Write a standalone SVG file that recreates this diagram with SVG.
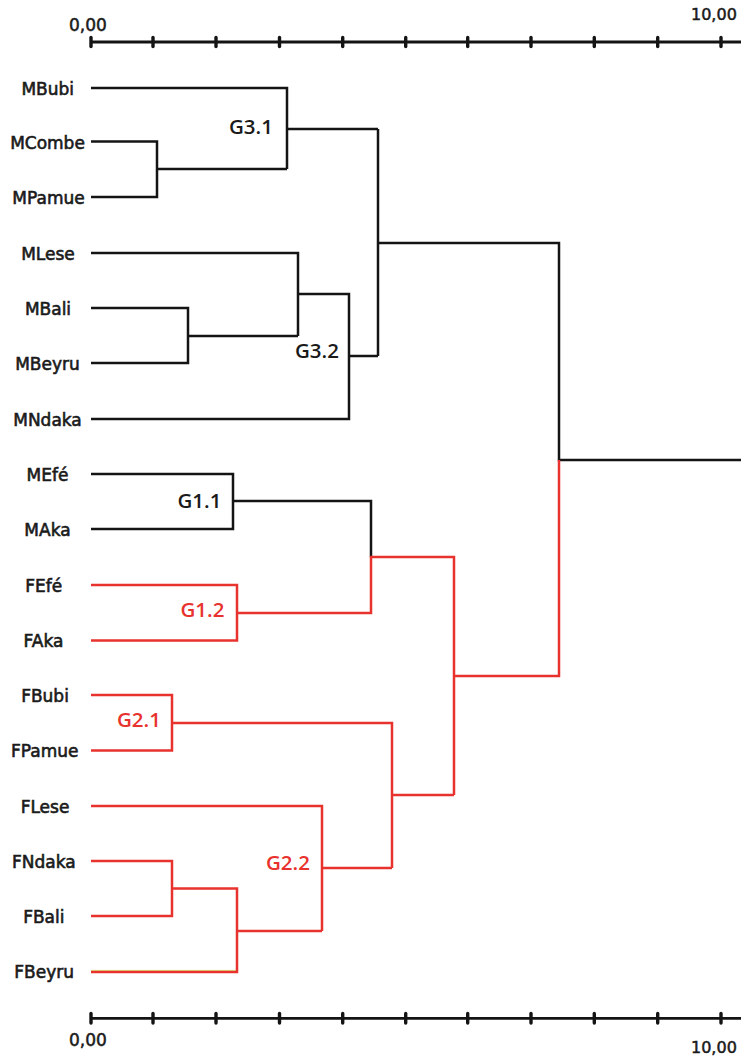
<svg xmlns="http://www.w3.org/2000/svg" width="741" height="1056" viewBox="0 0 741 1056">
<style>
.lbl{font-family:"DejaVu Sans",sans-serif;font-size:17px;fill:#1a1a1a;stroke:#1a1a1a;stroke-width:0.6;text-anchor:middle}
.ax{font-family:"DejaVu Sans",sans-serif;fill:#1a1a1a;stroke:#1a1a1a;stroke-width:0.5}
.grp{font-family:"Open Sans","DejaVu Sans",sans-serif;font-size:20.5px;font-weight:600}
.k{fill:none;stroke:#141414;stroke-width:2.5;stroke-linejoin:miter}
.r{fill:none;stroke:#e8322e;stroke-width:2.5;stroke-linejoin:miter}
.axis{fill:none;stroke:#141414;stroke-width:2.8}
.tick{stroke:#141414;stroke-width:3.4;stroke-linecap:round}
</style>
<rect width="741" height="1056" fill="#ffffff"/>

<g id="axis-top">
<line class="axis" x1="91" y1="42" x2="741" y2="42"/>
<g class="tick">
<line x1="91" y1="37.5" x2="91" y2="46.5"/><line x1="153" y1="37.5" x2="153" y2="46.5"/><line x1="216" y1="37.5" x2="216" y2="46.5"/><line x1="279.5" y1="37.5" x2="279.5" y2="46.5"/><line x1="342.7" y1="37.5" x2="342.7" y2="46.5"/><line x1="405.7" y1="37.5" x2="405.7" y2="46.5"/><line x1="467.7" y1="37.5" x2="467.7" y2="46.5"/><line x1="531" y1="37.5" x2="531" y2="46.5"/><line x1="594.3" y1="37.5" x2="594.3" y2="46.5"/><line x1="657.7" y1="37.5" x2="657.7" y2="46.5"/><line x1="721" y1="37.5" x2="721" y2="46.5"/>
</g>
<text class="ax" x="69" y="30.5" font-size="17">0,00</text>
<text class="ax" x="691" y="19.5" font-size="16">10,00</text>
</g>

<g id="axis-bottom">
<line class="axis" x1="91" y1="1018.3" x2="741" y2="1018.3"/>
<g class="tick">
<line x1="91" y1="1013.5" x2="91" y2="1023"/><line x1="153" y1="1013.5" x2="153" y2="1023"/><line x1="216" y1="1013.5" x2="216" y2="1023"/><line x1="279.5" y1="1013.5" x2="279.5" y2="1023"/><line x1="342.7" y1="1013.5" x2="342.7" y2="1023"/><line x1="405.7" y1="1013.5" x2="405.7" y2="1023"/><line x1="467.7" y1="1013.5" x2="467.7" y2="1023"/><line x1="531" y1="1013.5" x2="531" y2="1023"/><line x1="594.3" y1="1013.5" x2="594.3" y2="1023"/><line x1="657.7" y1="1013.5" x2="657.7" y2="1023"/><line x1="721" y1="1013.5" x2="721" y2="1023"/>
</g>
<text class="ax" x="69" y="1045.5" font-size="17">0,00</text>
<text class="ax" x="691" y="1052.5" font-size="16">10,00</text>
</g>

<g id="connectors">
<path class="k" d="M91,88 H287 V169 M91,141.5 H157 V197 H91 M157,169 H287 M287,129 H378 M91,253 H298 V336 M91,308 H188 V363 H91 M188,336 H298 M298,294 H349 V419 H91 M349,356 H378 M378,129 V356 M378,243 H559 V460 H741 M91,474 H233 V529 H91 M233,501 H371 V557"/>
<path class="r" d="M91,585 H237 V640.5 H91 M237,613 H371 V557 H454 V795 M91,695 H172 V750.5 H91 M172,723 H392 V868 M392,795 H454 M454,676 H559 V460 M91,806 H322 V931 M91,861 H172 V916 H91 M172,888.5 H237 V972 H91 M237,931 H322 M322,868 H392"/>
<line x1="91" y1="970.4" x2="236" y2="970.4" stroke="#c9b52a" stroke-width="0.8" stroke-opacity="0.8"/>
</g>

<g id="MBubi"><text class="lbl" x="47.7" y="95">MBubi</text></g>
<g id="MCombe"><text class="lbl" x="47.5" y="148.5">MCombe</text></g>
<g id="MPamue"><text class="lbl" x="48.5" y="204">MPamue</text></g>
<g id="MLese"><text class="lbl" x="48" y="260">MLese</text></g>
<g id="MBali"><text class="lbl" x="48" y="315">MBali</text></g>
<g id="MBeyru"><text class="lbl" x="47.5" y="370">MBeyru</text></g>
<g id="MNdaka"><text class="lbl" x="47.5" y="426">MNdaka</text></g>
<g id="MEfe"><text class="lbl" x="47.5" y="481">MEfé</text></g>
<g id="MAka"><text class="lbl" x="47.5" y="536">MAka</text></g>
<g id="FEfe"><text class="lbl" x="43.7" y="592">FEfé</text></g>
<g id="FAka"><text class="lbl" x="43.5" y="647">FAka</text></g>
<g id="FBubi"><text class="lbl" x="45" y="702">FBubi</text></g>
<g id="FPamue"><text class="lbl" x="44.7" y="757">FPamue</text></g>
<g id="FLese"><text class="lbl" x="45" y="813">FLese</text></g>
<g id="FNdaka"><text class="lbl" x="43.8" y="868">FNdaka</text></g>
<g id="FBali"><text class="lbl" x="43.8" y="923">FBali</text></g>
<g id="FBeyru"><text class="lbl" x="44.2" y="978">FBeyru</text></g>

<g id="G3.1"><text class="grp" x="229" y="134" fill="#1a1a1a">G3.1</text></g>
<g id="G3.2"><text class="grp" x="295" y="357.5" fill="#1a1a1a">G3.2</text></g>
<g id="G1.1"><text class="grp" x="177.5" y="507.5" fill="#1a1a1a">G1.1</text></g>
<g id="G1.2"><text class="grp" x="180.5" y="616.5" fill="#e8322e">G1.2</text></g>
<g id="G2.1"><text class="grp" x="117" y="726.5" fill="#e8322e">G2.1</text></g>
<g id="G2.2"><text class="grp" x="266" y="870" fill="#e8322e">G2.2</text></g>
</svg>
